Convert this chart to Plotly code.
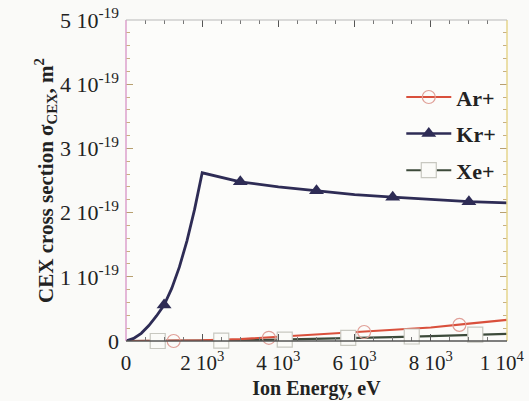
import plotly.graph_objects as go

# Data (cross sections in units of 1e-19 m^2, energies in eV)
kr_e = [0, 200, 400, 600, 800, 1000, 1200, 1400, 1600, 1800, 2000, 3000, 4000, 5000, 6000, 7000, 8000, 9000, 10000]
kr_s = [0, 0.04, 0.12, 0.24, 0.39, 0.56, 0.82, 1.15, 1.56, 2.05, 2.62, 2.48, 2.40, 2.34, 2.28, 2.24, 2.20, 2.17, 2.15]
kr_me = [1000, 3000, 5000, 7000, 9000]
kr_ms = [0.56, 2.48, 2.34, 2.24, 2.17]

ar_e = [0, 1000, 2000, 3000, 4000, 5000, 6000, 7000, 8000, 9000, 10000]
ar_s = [0, 0, 0.01, 0.03, 0.065, 0.10, 0.13, 0.17, 0.21, 0.27, 0.33]
ar_me = [1250, 3750, 6250, 8750]
ar_ms = [0.0, 0.05, 0.14, 0.25]

xe_e = [0, 1000, 2000, 3000, 4000, 5000, 6000, 7000, 8000, 9000, 10000]
xe_s = [0, 0, 0.005, 0.01, 0.02, 0.03, 0.045, 0.06, 0.075, 0.095, 0.11]
xe_me = [833, 2500, 4167, 5833, 7500, 9167]
xe_ms = [0.0, 0.005, 0.02, 0.05, 0.07, 0.10]

x_ticks = [0, 2000, 4000, 6000, 8000, 10000]
x_labels = ["0", "2 10<sup>3</sup>", "4 10<sup>3</sup>", "6 10<sup>3</sup>", "8 10<sup>3</sup>", "1 10<sup>4</sup>\u00a0\u00a0"]
y_ticks = [0, 1, 2, 3, 4, 5]
y_labels = ["0", "1 10<sup>-19</sup>", "2 10<sup>-19</sup>", "3 10<sup>-19</sup>", "4 10<sup>-19</sup>", "5 10<sup>-19</sup>"]

AR = "#d9503c"
AR_M = "#e0a098"
KR = "#2e2c55"
XE = "#3c4a3a"
XE_M = "#c8c8c0"
FONT = "Liberation Serif"

fig = go.Figure()

# Lines
fig.add_trace(go.Scatter(x=xe_e, y=xe_s, mode="lines", line=dict(color=XE, width=2.2), showlegend=False, hoverinfo="skip"))
fig.add_trace(go.Scatter(x=ar_e, y=ar_s, mode="lines", line=dict(color=AR, width=2.2), showlegend=False, hoverinfo="skip"))
fig.add_trace(go.Scatter(x=kr_e, y=kr_s, mode="lines", line=dict(color=KR, width=2.8),
                         showlegend=False, hoverinfo="skip"))

# Markers
fig.add_trace(go.Scatter(x=xe_me, y=xe_ms, mode="markers", cliponaxis=False,
                         marker=dict(symbol="square", size=15, color="#fbfbf8", line=dict(color=XE_M, width=1.2)),
                         showlegend=False))
fig.add_trace(go.Scatter(x=ar_me, y=ar_ms, mode="markers", cliponaxis=False,
                         marker=dict(symbol="circle-open", size=13, color=AR_M, line=dict(width=1.2)),
                         showlegend=False))
fig.add_trace(go.Scatter(x=kr_me, y=kr_ms, mode="markers", cliponaxis=False,
                         marker=dict(symbol="triangle-up", size=13, color=KR),
                         showlegend=False))

# Legend entries
fig.add_trace(go.Scatter(x=[None], y=[None], mode="lines+markers", name="<b>Ar+</b>", legendgroup="a",
                         line=dict(color=AR, width=2),
                         marker=dict(symbol="circle", size=13, color="rgba(255,255,255,0)", line=dict(color=AR_M, width=1.2))))
fig.add_trace(go.Scatter(x=[None], y=[None], mode="lines+markers", name="<b>Kr+</b>", legendgroup="b",
                         line=dict(color=KR, width=2.5),
                         marker=dict(symbol="triangle-up", size=13, color=KR)))
fig.add_trace(go.Scatter(x=[None], y=[None], mode="lines+markers", name="<b>Xe+</b>", legendgroup="c",
                         line=dict(color=XE, width=2),
                         marker=dict(symbol="square", size=15, color="#fbfbf8", line=dict(color=XE_M, width=1.2))))

# Frame sides
fig.add_shape(type="line", xref="paper", yref="paper", x0=0, x1=0, y0=0, y1=1, line=dict(color="#dca0cc", width=1.5))
fig.add_shape(type="line", xref="paper", yref="paper", x0=1, x1=1, y0=0, y1=1, line=dict(color="#e6d68c", width=1.5))
fig.add_shape(type="line", xref="paper", yref="paper", x0=0, x1=1, y0=1, y1=1, line=dict(color="#b8b8b8", width=1))
fig.add_shape(type="line", xref="paper", yref="paper", x0=0, x1=1, y0=0, y1=0, line=dict(color="#555555", width=1.5))

fig.update_xaxes(range=[0, 10000], tickvals=x_ticks, ticktext=x_labels,
                 ticks="inside", ticklen=7, tickcolor="#555555", tickwidth=1,
                 minor=dict(dtick=500, ticks="inside", ticklen=4, tickcolor="#777777"),
                 mirror="allticks", showline=False, showgrid=False, zeroline=False,
                 automargin=False, ticklabeloverflow="allow",
                 ticklabelstandoff=7,
                 tickfont=dict(family=FONT, size=21, color="#222222"),
                 title=dict(text="<b>Ion Energy, eV</b>", font=dict(family=FONT, size=20, color="#222222"), standoff=6))
fig.update_yaxes(range=[0, 5], tickvals=y_ticks, ticktext=y_labels,
                 ticks="inside", ticklen=7, tickcolor="#b8a070", tickwidth=1,
                 minor=dict(dtick=0.2, ticks="inside", ticklen=4, tickcolor="#c8b080"),
                 mirror="allticks", showline=False, showgrid=False, zeroline=False,
                 automargin=False, ticklabeloverflow="allow",
                 ticklabelstandoff=6,
                 tickfont=dict(family=FONT, size=22, color="#222222"),
                 title=dict(text="<b>CEX cross section σ<sub>CEX</sub>, m<sup>2</sup></b>",
                            font=dict(family=FONT, size=21, color="#222222"), standoff=0))

fig.update_layout(
    width=529, height=401,
    margin=dict(l=126, r=22, t=20, b=60),
    font=dict(family=FONT, size=18, color="#222222"),
    paper_bgcolor="#fafaf8", plot_bgcolor="#fcfcfa",
    legend=dict(x=0.985, y=0.825, xanchor="right", yanchor="top", traceorder="grouped",
                bgcolor="rgba(0,0,0,0)", font=dict(family=FONT, size=22, color="#222222"),
                itemwidth=45, tracegroupgap=5),
)

fig.write_html("out.html")
